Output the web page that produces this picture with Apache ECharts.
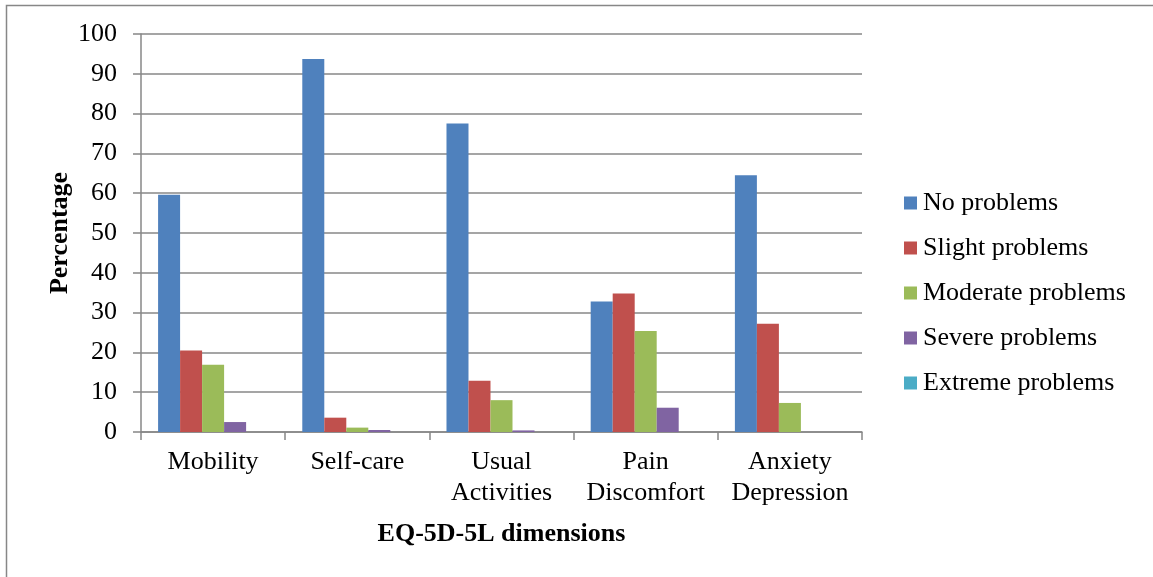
<!DOCTYPE html>
<html>
<head>
<meta charset="utf-8">
<title>EQ-5D-5L dimensions</title>
<script src="https://cdn.jsdelivr.net/npm/echarts@6/dist/echarts.min.js"></script>
<style>
  html, body { margin: 0; padding: 0; background: #ffffff; }
  #chart { width: 1153px; height: 577px; }
</style>
</head>
<body>
<div id="chart"></div>
<script>
// EQ-5D-5L dimensions and the share of respondents at each level (%)
const dimensions = ['Mobility', 'Self-care', 'Usual\nActivities', 'Pain\nDiscomfort', 'Anxiety\nDepression'];
const levelNames = ['No problems', 'Slight problems', 'Moderate problems', 'Severe problems', 'Extreme problems'];
const levelColors = ['#4F81BD', '#C0504D', '#9BBB59', '#8064A2', '#4BACC6'];

const noProblems       = [59.6, 93.7, 77.5, 32.8, 64.5];
const slightProblems   = [20.5, 3.6, 12.9, 34.8, 27.2];
const moderateProblems = [16.9, 1.1, 8.0, 25.4, 7.3];
const severeProblems   = [2.5, 0.5, 0.4, 6.1, 0];
const extremeProblems  = [0, 0, 0, 0, 0];

const levelValues = [noProblems, slightProblems, moderateProblems, severeProblems, extremeProblems];

const FONT = '"Liberation Serif", "Times New Roman", serif';
const FONT_SIZE = 26;
const AXIS_GRAY = '#878787';

const chart = echarts.init(document.getElementById('chart'), null, { renderer: 'canvas' });

chart.setOption({
  animation: false,
  backgroundColor: '#ffffff',
  textStyle: { fontFamily: FONT, color: '#000000' },
  graphic: [{
    type: 'rect',
    shape: { x: 6.5, y: 5.5, width: 1170, height: 600 },
    style: { fill: 'none', stroke: AXIS_GRAY, lineWidth: 1.5 },
    silent: true
  }],
  grid: { left: 141, right: 291, top: 34, bottom: 145, containLabel: false },
  legend: {
    orient: 'vertical',
    left: 899,
    top: 185,
    itemWidth: 13,
    itemHeight: 13,
    itemGap: 19,
    icon: 'rect',
    data: levelNames,
    textStyle: { fontFamily: FONT, fontSize: FONT_SIZE, lineHeight: 26, color: '#000000', padding: [0, 0, 0, 1] }
  },
  xAxis: {
    type: 'category',
    data: dimensions,
    boundaryGap: true,
    name: 'EQ-5D-5L dimensions',
    nameLocation: 'middle',
    nameGap: 89,
    nameMoveOverlap: false,
    nameTextStyle: { fontFamily: FONT, fontSize: FONT_SIZE, fontWeight: 'bold', color: '#000000' },
    axisLine: { show: true, lineStyle: { color: AXIS_GRAY, width: 1.5 } },
    axisTick: { show: true, length: 8, lineStyle: { color: AXIS_GRAY, width: 1.5 } },
    axisLabel: { fontFamily: FONT, fontSize: FONT_SIZE, lineHeight: 31, color: '#000000', margin: 15, interval: 0 },
    splitLine: { show: false }
  },
  yAxis: {
    type: 'value',
    min: 0,
    max: 100,
    interval: 10,
    name: 'Percentage',
    nameLocation: 'middle',
    nameGap: 68,
    nameMoveOverlap: false,
    nameTextStyle: { fontFamily: FONT, fontSize: FONT_SIZE, fontWeight: 'bold', color: '#000000' },
    axisLine: { show: true, lineStyle: { color: AXIS_GRAY, width: 1.5 } },
    axisTick: { show: true, length: 8, lineStyle: { color: AXIS_GRAY, width: 1.5 } },
    axisLabel: { fontFamily: FONT, fontSize: FONT_SIZE, color: '#000000', margin: 24 },
    splitLine: { show: true, lineStyle: { color: AXIS_GRAY, width: 1.5 } }
  },
  series: levelNames.map((name, i) => ({
    name: name,
    type: 'bar',
    data: levelValues[i],
    barGap: '0%',
    barCategoryGap: '23.7%',
    itemStyle: { color: levelColors[i] }
  }))
});
</script>
</body>
</html>
